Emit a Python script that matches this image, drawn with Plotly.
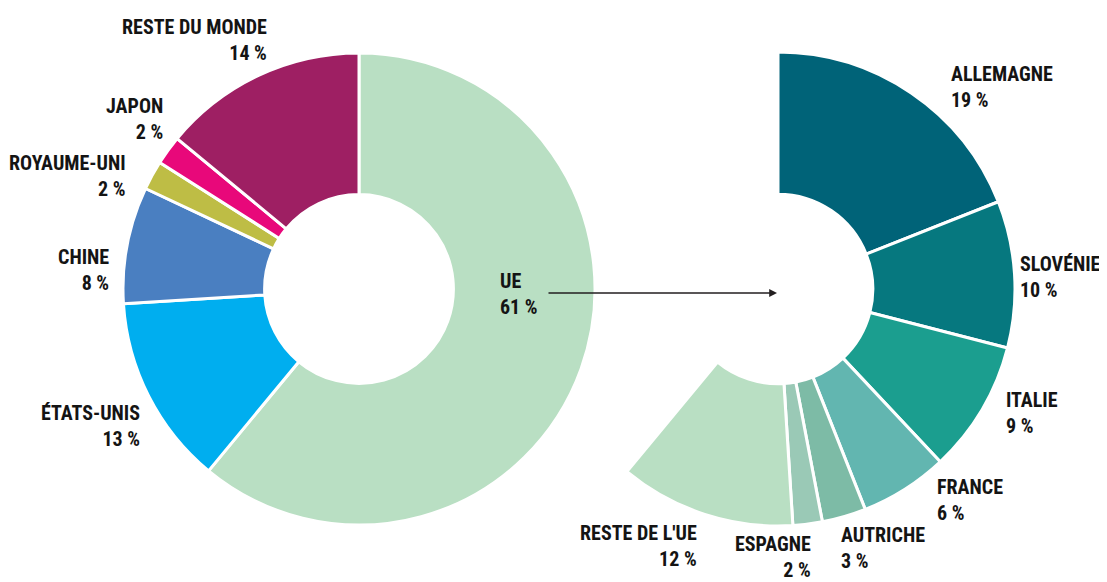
import plotly.graph_objects as go

W, H = 1107, 582
OFF = 8  # page body margin in the browser

# Left donut: world distribution
world_labels = ["UE", "ÉTATS-UNIS", "CHINE", "ROYAUME-UNI", "JAPON", "RESTE DU MONDE"]
world_values = [61, 13, 8, 2, 2, 14]
world_colors = ["#b9dfc3", "#00aeef", "#4a7fc1", "#bebd45", "#e8087a", "#9e1f63"]

# Right partial donut: EU breakdown (share of total)
eu_labels = ["ALLEMAGNE", "SLOVÉNIE", "ITALIE", "FRANCE", "AUTRICHE", "ESPAGNE", "RESTE DE L'UE"]
eu_values = [19, 10, 9, 6, 3, 2, 12]
eu_colors = ["#006378", "#06787f", "#1b9e8f", "#62b6b0", "#7dbba6", "#9ac9b6", "#b9dfc3"]

FONT = "Roboto Condensed, Open Sans Condensed, sans-serif"


def px_x(x):
    return (x - OFF) / W


def px_y(y):
    return 1 - (y - OFF) / H


def dom(cx, cy, r):
    return dict(x=[px_x(cx - r), px_x(cx + r)], y=[px_y(cy + r), px_y(cy - r)])


fig = go.Figure()

fig.add_trace(go.Pie(
    labels=world_labels, values=world_values, sort=False, direction="clockwise",
    rotation=0, hole=0.4, textinfo="none", hoverinfo="label+value",
    marker=dict(colors=world_colors, line=dict(color="white", width=3)),
    domain=dom(359, 289, 236), showlegend=False,
))

gap = 100 - sum(eu_values)
fig.add_trace(go.Pie(
    labels=eu_labels + [""], values=eu_values + [gap], sort=False, direction="clockwise",
    rotation=0, hole=0.4, textinfo="none", hoverinfo="label+value",
    marker=dict(colors=eu_colors + ["rgba(0,0,0,0)"],
                line=dict(color="white", width=[3] * len(eu_values) + [0])),
    domain=dom(778, 289, 237), showlegend=False,
))

# label positions (page pixels): x edge, first-line centre y, anchor
world_pos = {
    "UE": (499, 280, "left"),
    "ÉTATS-UNIS": (141, 412, "right"),
    "CHINE": (110, 256, "right"),
    "ROYAUME-UNI": (127, 162, "right"),
    "JAPON": (164, 105, "right"),
    "RESTE DU MONDE": (268, 26, "right"),
}
eu_pos = {
    "ALLEMAGNE": (950, 74, "left"),
    "SLOVÉNIE": (1019, 263, "left"),
    "ITALIE": (1005, 399, "left"),
    "FRANCE": (936, 486, "left"),
    "AUTRICHE": (840, 534, "left"),
    "ESPAGNE": (812, 543, "right"),
    "RESTE DE L'UE": (698, 532, "right"),
}

annotations = []
for labels, values, pos in ((world_labels, world_values, world_pos), (eu_labels, eu_values, eu_pos)):
    for lab, val in zip(labels, values):
        x, y, anchor = pos[lab]
        annotations.append(dict(
            x=px_x(x + (1 if anchor == "right" else -1)), y=px_y(y + 13.5),
            xref="paper", yref="paper",
            xanchor=anchor, yanchor="middle", align=anchor, showarrow=False,
            text=f"<b>{lab}<br>{val} %</b>",
            font=dict(family=FONT, size=20, color="#141414"),
        ))

# arrow from UE to EU breakdown
annotations.append(dict(
    x=px_x(777), y=px_y(293), xref="paper", yref="paper",
    ax=-(777 - 547), ay=0, axref="pixel", ayref="pixel",
    showarrow=True, arrowhead=2, arrowsize=1.2, arrowwidth=1.3, arrowcolor="#231f20",
    text="",
))

fig.update_layout(
    width=W, height=H, margin=dict(l=0, r=0, t=0, b=0),
    paper_bgcolor="white", plot_bgcolor="white",
    annotations=annotations,
)

fig.write_html("out.html")
